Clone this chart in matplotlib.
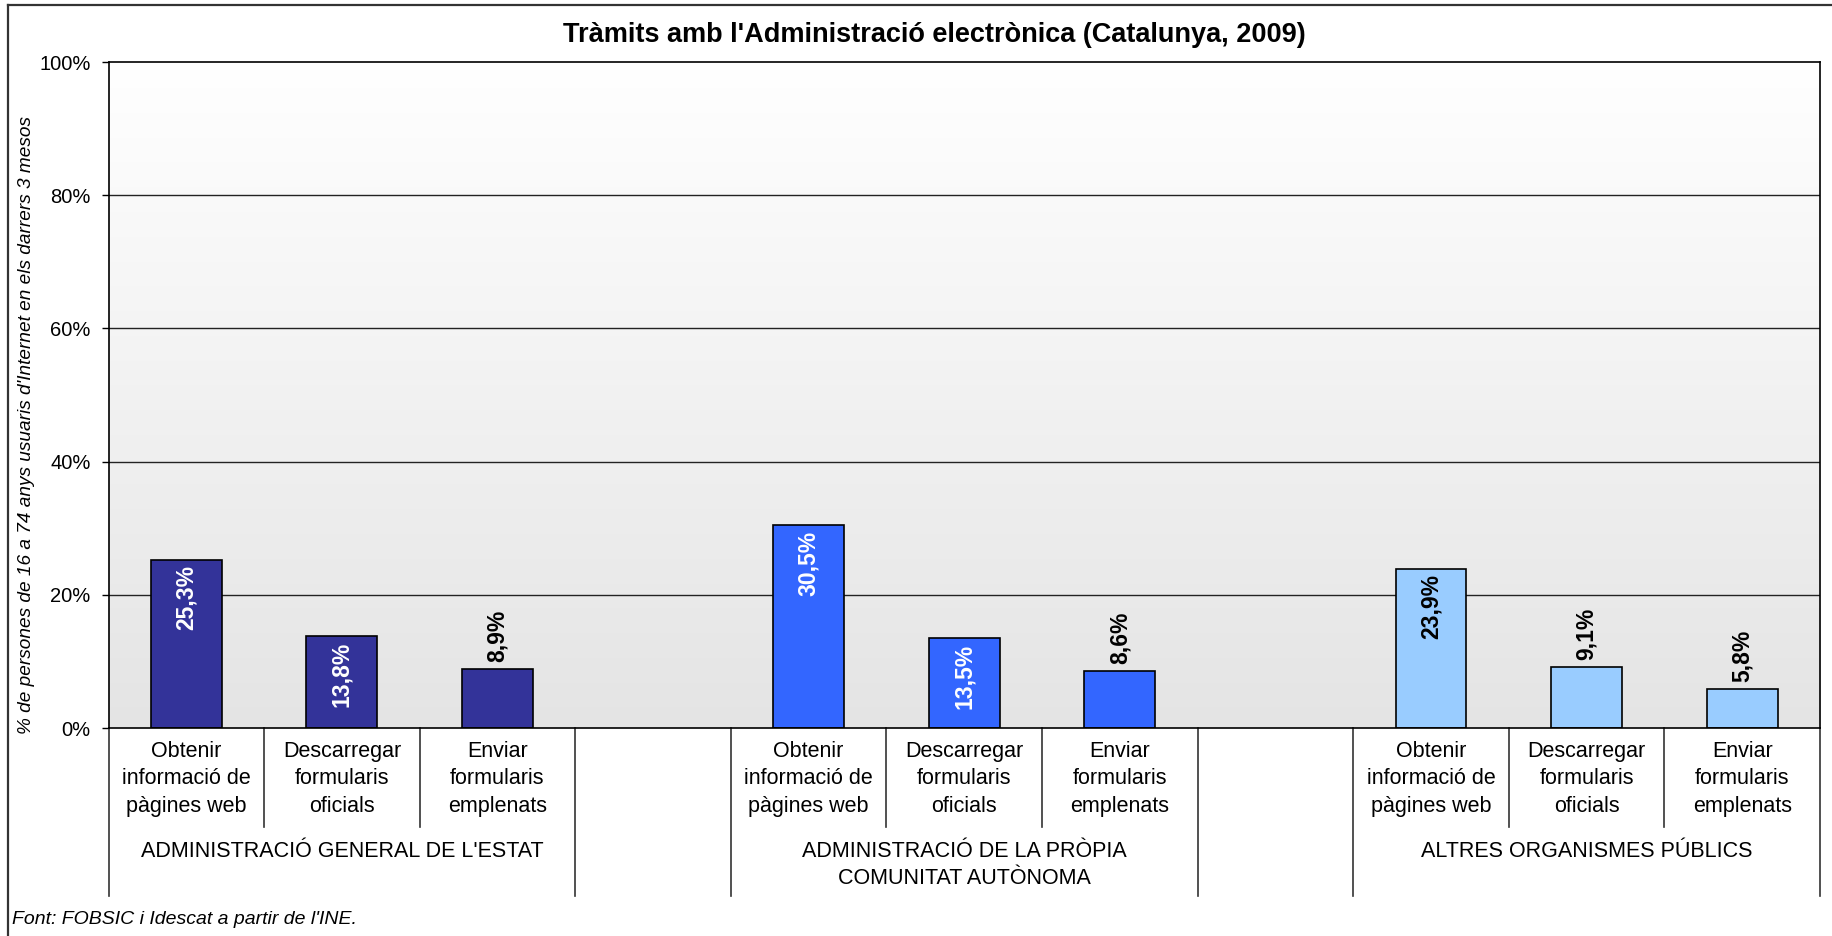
#!/usr/bin/env python3
"""
Tràmits amb l'Administració electrònica (Catalunya, 2009) - grouped bar chart.
"""

import numpy as np
import matplotlib
matplotlib.use('Agg')
import matplotlib.pyplot as plt
from matplotlib.lines import Line2D
from matplotlib.ticker import FuncFormatter

plt.rcParams['font.family'] = ['Liberation Sans', 'DejaVu Sans']

# Data
administracions = [
    "ADMINISTRACIÓ GENERAL DE L'ESTAT",
    "ADMINISTRACIÓ DE LA PRÒPIA\nCOMUNITAT AUTÒNOMA",
    "ALTRES ORGANISMES PÚBLICS",
]
tramits = [
    "Obtenir\ninformació de\npàgines web",
    "Descarregar\nformularis\noficials",
    "Enviar\nformularis\nemplenats",
]
estat = [25.3, 13.8, 8.9]
comunitat = [30.5, 13.5, 8.6]
altres = [23.9, 9.1, 5.8]

series = [estat, comunitat, altres]
colors = ['#333399', '#3366FF', '#99CCFF']
inside_text = ['white', 'white', 'black']

W, H = 1832, 936
fig = plt.figure(figsize=(W / 100, H / 100), dpi=100)
fig.patch.set_facecolor('white')

# axes box in pixels: left 108.5, right 1820, top 62, bottom 728
ax_l, ax_r, ax_t, ax_b = 108.5, 1820, 62, 728
ax = fig.add_axes([ax_l / W, 1 - ax_b / H, (ax_r - ax_l) / W, (ax_b - ax_t) / H])
ax_h_px = ax_b - ax_t

n_slots = 4 * len(series) - 1

# background gradient: white at top to light grey at bottom
grad = np.repeat(np.linspace(1.0, 0.895, 256)[:, None], 2, axis=1)
img = np.dstack([grad, grad, grad])
ax.imshow(img, extent=[0, n_slots, 0, 100], aspect='auto', zorder=0, interpolation='bilinear')

ax.set_xlim(0, n_slots)
ax.set_ylim(0, 100)
ax.set_yticks(np.arange(0, 101, 20))
ax.yaxis.set_major_formatter(FuncFormatter(lambda v, p: f'{v:.0f}%'))
ax.tick_params(axis='y', direction='out', length=5, width=1, labelsize=14.5, pad=8)
ax.tick_params(axis='x', bottom=False, labelbottom=False)
for y in range(20, 100, 20):
    ax.axhline(y, color='#222222', lw=1, zorder=1)
for s in ax.spines.values():
    s.set_color('black')
    s.set_linewidth(1.2)
    s.set_zorder(5)

bar_w = 0.456
for g, vals in enumerate(series):
    xs = [4 * g + j + 0.5 for j in range(len(vals))]
    bars = ax.bar(xs, vals, width=bar_w, color=colors[g], edgecolor='black',
                  linewidth=1.2, zorder=3)
    for bar, v in zip(bars, vals):
        label = f'{v:.1f}'.replace('.', ',') + '%'
        cx = bar.get_x() + bar.get_width() / 2
        if v > 10:
            ax.annotate(label, (cx, v), xytext=(0, -4), textcoords='offset points',
                        rotation=90, ha='center', va='top', fontsize=16.5,
                        fontweight='bold', color=inside_text[g], zorder=4)
        else:
            ax.annotate(label, (cx, v), xytext=(0, 5), textcoords='offset points',
                        rotation=90, ha='center', va='bottom', fontsize=16.5,
                        fontweight='bold', color='black', zorder=4)

# multi-level category axis below the plot
trans = ax.get_xaxis_transform()
short = -99 / ax_h_px
long_ = -168 / ax_h_px
for g in range(len(series)):
    start = 4 * g
    for x in (start, start + 3):
        ax.add_line(Line2D([x, x], [0, long_], transform=trans, color='#333333',
                           lw=1.2, clip_on=False))
    for x in (start + 1, start + 2):
        ax.add_line(Line2D([x, x], [0, short], transform=trans, color='#333333',
                           lw=1.2, clip_on=False))
    for j, name in enumerate(tramits):
        ax.text(start + j + 0.5, -13 / ax_h_px, name, transform=trans, ha='center',
                va='top', fontsize=15.5, linespacing=1.4, multialignment='center')
    ax.text(start + 1.5, -113 / ax_h_px, administracions[g], transform=trans,
            ha='center', va='top', fontsize=15.5, linespacing=1.4,
            multialignment='center')

ax.set_ylabel("% de persones de 16 a 74 anys usuaris d'Internet en els darrers 3 mesos",
              fontsize=13.7, style='italic')
ax.yaxis.set_label_coords(35 / W, 1 - 425 / H, transform=fig.transFigure)

fig.text(934 / W, 1 - 35 / H, "Tràmits amb l'Administració electrònica (Catalunya, 2009)",
         ha='center', va='center', fontsize=19.5, fontweight='bold')
fig.text(12 / W, 1 - 920 / H, "Font: FOBSIC i Idescat a partir de l'INE.",
         ha='left', va='center', fontsize=14, style='italic')

# outer chart border
fig.add_artist(Line2D([8 / W, 8 / W], [0, 1 - 5 / H], transform=fig.transFigure,
                      color='#333333', lw=1.6))
fig.add_artist(Line2D([8 / W, 1], [1 - 5 / H, 1 - 5 / H], transform=fig.transFigure,
                      color='#333333', lw=1.6))

fig.savefig('out.png', dpi=100)
